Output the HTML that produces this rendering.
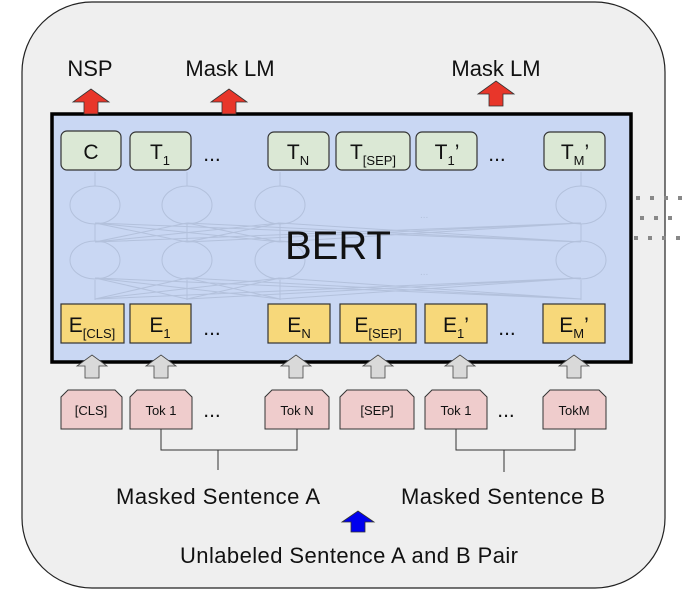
<!DOCTYPE html>
<html><head><style>body{margin:0;background:#fff}</style></head><body>
<svg width="682" height="604" viewBox="0 0 682 604" xmlns="http://www.w3.org/2000/svg" font-family="Liberation Sans, sans-serif">
<rect x="22" y="2" width="643" height="586" rx="70" fill="#efefef" stroke="#222" stroke-width="1.2"/>
<rect x="52" y="114" width="579" height="248" fill="#c9d7f3" stroke="#000" stroke-width="3.5"/>
<g fill="none" stroke="#b3c1dc" stroke-width="1">
<ellipse cx="95" cy="205" rx="25" ry="19"/><ellipse cx="187" cy="205" rx="25" ry="19"/><ellipse cx="280" cy="205" rx="25" ry="19"/><ellipse cx="581" cy="205" rx="25" ry="19"/>
<ellipse cx="95" cy="260" rx="25" ry="19"/><ellipse cx="187" cy="260" rx="25" ry="19"/><ellipse cx="280" cy="260" rx="25" ry="19"/><ellipse cx="581" cy="260" rx="25" ry="19"/>
<path d="M95 300V280M187 300V280M280 300V280M581 300V280M95 241V224M187 241V224M280 241V224M581 241V224M95 186V172M187 186V172M280 186V172M581 186V172"/>
<path d="M95 299L187 278M95 299L280 278M95 299L581 278M187 299L95 278M187 299L280 278M187 299L581 278M280 299L95 278M280 299L187 278M280 299L581 278M581 299L95 278M581 299L187 278M581 299L280 278"/>
<path d="M95 242L187 223M95 242L280 223M95 242L581 223M187 242L95 223M187 242L280 223M187 242L581 223M280 242L95 223M280 242L187 223M280 242L581 223M581 242L95 223M581 242L187 223M581 242L280 223"/>
</g>
<text x="420" y="218" font-size="10" fill="#b3c1dc">...</text><text x="420" y="275" font-size="10" fill="#b3c1dc">...</text>
<text x="338" y="259" font-size="40" text-anchor="middle" fill="#111">BERT</text>
<g fill="#dbe8d5" stroke="#333" stroke-width="1.2">
<rect x="61" y="131" width="60" height="39" rx="6"/><rect x="130" y="132" width="61" height="38" rx="6"/><rect x="268" y="132" width="61" height="38" rx="6"/><rect x="336" y="132" width="74" height="38" rx="6"/><rect x="416" y="132" width="61" height="38" rx="6"/><rect x="544" y="132" width="61" height="38" rx="6"/>
</g>
<g font-size="21" fill="#111" text-anchor="middle">
<text x="91" y="159">C</text>
<text x="160" y="159">T<tspan font-size="13" dy="6">1</tspan></text>
<text x="298" y="159">T<tspan font-size="13" dy="6">N</tspan></text>
<text x="373" y="159">T<tspan font-size="13" dy="6">[SEP]</tspan></text>
<text x="447" y="159">T<tspan font-size="13" dy="6">1</tspan><tspan dy="-6">’</tspan></text>
<text x="575" y="159">T<tspan font-size="13" dy="6">M</tspan><tspan dy="-6">’</tspan></text>
<text x="212" y="161">...</text><text x="497" y="161">...</text>
</g>
<g fill="#f7d87a" stroke="#333" stroke-width="1.2">
<rect x="61" y="304" width="63" height="39"/><rect x="130" y="304" width="61" height="39"/><rect x="268" y="304" width="62" height="39"/><rect x="340" y="304" width="76" height="39"/><rect x="425" y="304" width="62" height="39"/><rect x="543" y="304" width="62" height="39"/>
</g>
<g font-size="21" fill="#111" text-anchor="middle">
<text x="92" y="332">E<tspan font-size="13" dy="6">[CLS]</tspan></text>
<text x="160" y="332">E<tspan font-size="13" dy="6">1</tspan></text>
<text x="299" y="332">E<tspan font-size="13" dy="6">N</tspan></text>
<text x="378" y="332">E<tspan font-size="13" dy="6">[SEP]</tspan></text>
<text x="456" y="332">E<tspan font-size="13" dy="6">1</tspan><tspan dy="-6">’</tspan></text>
<text x="574" y="332">E<tspan font-size="13" dy="6">M</tspan><tspan dy="-6">’</tspan></text>
<text x="212" y="335">...</text><text x="507" y="335">...</text>
</g>
<g fill="#e8362a" stroke="#333" stroke-width="0.8">
<path d="M84 114V102H73L91 89L109 102H98V114Z"/>
<path d="M222 114V102H211L229 89L247 102H236V114Z"/>
<path d="M489 106V94H478L496 81L514 94H503V106Z"/>
</g>
<g font-size="22" fill="#111" text-anchor="middle">
<text x="90" y="76">NSP</text><text x="230" y="76">Mask LM</text><text x="496" y="76">Mask LM</text>
</g>
<g fill="#d9d9d9" stroke="#444" stroke-width="0.8">
<path d="M85 378V366H77L92 355L107 366H99V378Z"/>
<path d="M154 378V366H146L161 355L176 366H168V378Z"/>
<path d="M289 378V366H281L296 355L311 366H303V378Z"/>
<path d="M371 378V366H363L378 355L393 366H385V378Z"/>
<path d="M453 378V366H445L460 355L475 366H467V378Z"/>
<path d="M567 378V366H559L574 355L589 366H581V378Z"/>
</g>
<g fill="#efcccc" stroke="#333" stroke-width="1">
<path d="M61 429V397L68 390H115L122 397V429Z"/>
<path d="M130 429V397L137 390H185L192 397V429Z"/>
<path d="M265 429V397L272 390H322L329 397V429Z"/>
<path d="M340 429V397L347 390H407L414 397V429Z"/>
<path d="M425 429V397L432 390H480L487 397V429Z"/>
<path d="M543 429V397L550 390H599L606 397V429Z"/>
</g>
<g font-size="13" fill="#111" text-anchor="middle">
<text x="91" y="415">[CLS]</text><text x="161" y="415">Tok 1</text><text x="297" y="415">Tok N</text><text x="377" y="415">[SEP]</text><text x="456" y="415">Tok 1</text><text x="574" y="415">TokM</text>
</g>
<g font-size="21" fill="#111" text-anchor="middle"><text x="212" y="417">...</text><text x="506" y="417">...</text></g>
<path d="M161 429V450H297V429M218 450V470M456 429V450H575V429M504 450V472" fill="none" stroke="#333" stroke-width="1"/>
<path d="M351 532V522H342L358 511L374 522H365V532Z" fill="#0000ee" stroke="#333" stroke-width="0.8"/>
<g font-size="22" fill="#111" text-anchor="middle">
<text x="218" y="504" textLength="204">Masked Sentence A</text><text x="503" y="504" textLength="204">Masked Sentence B</text><text x="349" y="563" textLength="338">Unlabeled Sentence A and B Pair</text>
</g>
<g stroke="#888" stroke-width="4" stroke-dasharray="4,10">
<path d="M636 198H682M640 218H682M634 238H682"/>
</g>
</svg>
</body></html>
